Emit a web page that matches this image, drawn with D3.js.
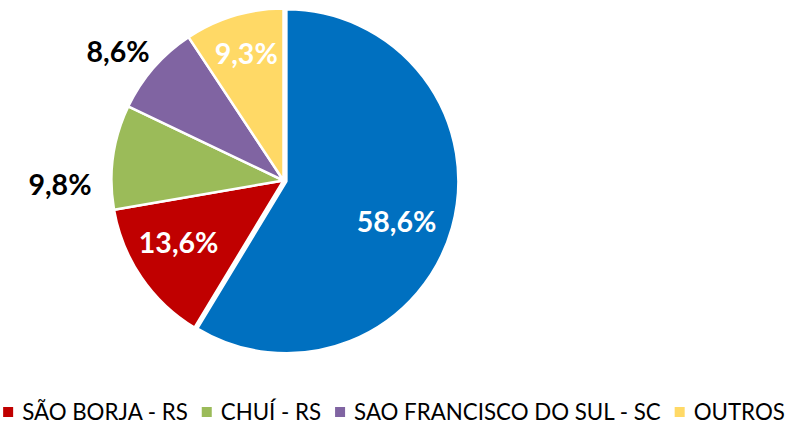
<!DOCTYPE html>
<html>
<head>
<meta charset="utf-8">
<script src="https://cdn.jsdelivr.net/npm/d3@7"></script>
<style>
  html, body { margin: 0; padding: 0; background: #fff; }
  svg { display: block; }
  text { font-family: Lato, "Open Sans", sans-serif; }
</style>
</head>
<body>
<svg id="chart" width="794" height="425"></svg>
<script>
// Data
const categories = ["(sem legenda)", "SÃO BORJA - RS", "CHUÍ - RS", "SAO FRANCISCO DO SUL - SC", "OUTROS"];
const values = [58.6, 13.6, 9.8, 8.6, 9.3];
const labels = ["58,6%", "13,6%", "9,8%", "8,6%", "9,3%"];
const colors = ["#0070C0", "#C00000", "#9BBB59", "#8064A2", "#FFD966"];
const showInLegend = [false, true, true, true, true];
const labelInside = [true, true, false, false, true];

const W = 794, H = 425;
const cx = 283.5, cy = 180.5, R = 172;
const explodeBlue = 3;

const svg = d3.select("#chart");
const data = categories.map((c, i) => ({ name: c, value: values[i], label: labels[i], color: colors[i], legend: showInLegend[i], inside: labelInside[i], i }));

const pie = d3.pie().sort(null).value(d => d.value).startAngle(0).endAngle(2 * Math.PI);
const arcs = pie(data);
const arc = d3.arc().innerRadius(0).outerRadius(R);

const g = svg.append("g").attr("transform", `translate(${cx},${cy})`);

function offset(a, d) {
  const m = (a.startAngle + a.endAngle) / 2;
  return [d * Math.sin(m), -d * Math.cos(m)];
}

g.selectAll("path.slice").data(arcs).join("path")
  .attr("class", "slice")
  .attr("d", arc)
  .attr("fill", d => d.data.color)
  .attr("stroke", "#fff")
  .attr("stroke-width", 2.5)
  .attr("stroke-linejoin", "round")
  .attr("transform", d => {
    const o = offset(d, d.data.i === 0 ? explodeBlue : 0);
    return `translate(${o[0]},${o[1]})`;
  });

// Label placement: radius as a fraction of R, plus a small angular shift (degrees)
const labelRadius = [0.70, 0.71, 1.30, 1.22, 0.77];
const labelShift = [4.5, 3.5, -9, -3, 0.4];
g.selectAll("text.lbl").data(arcs).join("text")
  .attr("class", "lbl")
  .attr("transform", d => {
    const m = (d.startAngle + d.endAngle) / 2 + labelShift[d.data.i] * Math.PI / 180;
    const rr = R * labelRadius[d.data.i];
    return `translate(${rr * Math.sin(m)},${-rr * Math.cos(m)})`;
  })
  .attr("text-anchor", "middle")
  .attr("dy", "0.36em")
  .attr("font-size", 28.5)
  .attr("font-weight", "bold")
  .attr("fill", d => d.data.inside ? "#fff" : "#000")
  .text(d => d.data.label);

// Legend
const legData = data.filter(d => d.legend);
const legY = 412;
const sq = 10, sqGap = 9, itemGap = 14, fs = 22.3;
const leg = svg.append("g");
const items = leg.selectAll("g.item").data(legData).join("g").attr("class", "item");
items.append("rect").attr("width", sq).attr("height", sq).attr("y", -sq / 2).attr("fill", d => d.color);
items.append("text").attr("x", sq + sqGap).attr("dy", "0.35em")
  .attr("font-size", fs).attr("fill", "#000").text(d => d.name);
let x = 0;
items.each(function () {
  const w = d3.select(this).select("text").node().getComputedTextLength();
  d3.select(this).attr("transform", `translate(${x},${legY})`);
  x += sq + sqGap + w + itemGap;
});
const total = x - itemGap;
leg.attr("transform", `translate(${(W - total) / 2 - 3},0)`);
</script>
</body>
</html>
